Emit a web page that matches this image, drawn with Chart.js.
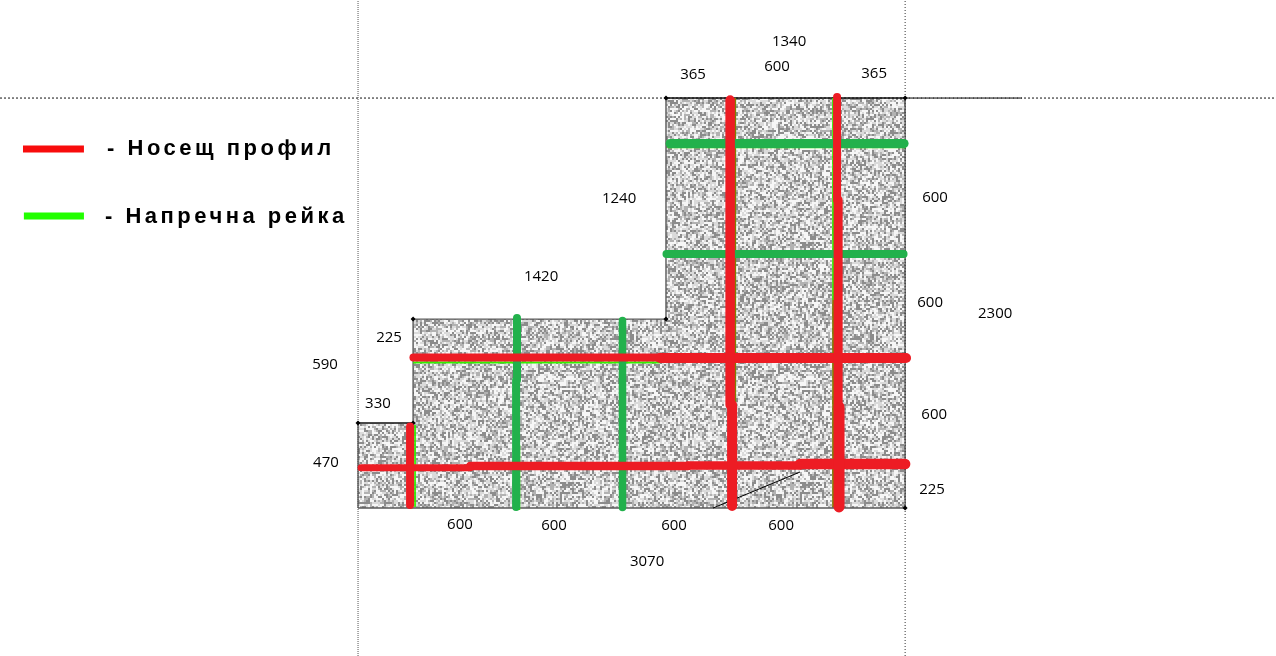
<!DOCTYPE html>
<html>
<head>
<meta charset="utf-8">
<title>Носещ профил</title>
<script src="https://cdn.jsdelivr.net/npm/chart.js@4/dist/chart.umd.min.js"></script>
<style>
  html, body { margin: 0; padding: 0; background: #fff; overflow: hidden; }
  canvas { display: block; }
</style>
</head>
<body>
<canvas id="plan" width="1276" height="656"></canvas>
<script>
// all values in mm, origin at the lower left corner of the ceiling
const RED = '#ed1c24';
const GREEN = '#22b14c';
const LIME = '#33f000';

const floorSteps = [[0, 477], [309, 1060], [1728, 2300], [3070, 2300]];
const outline = [[0, 0], [3070, 0], [3070, 2300], [1728, 2300], [1728, 1060], [309, 1060], [309, 477], [0, 477], [0, 0]];
const topEdge = [[1728, 2300], [3070, 2300]];
const stepEdge = [[0, 477], [309, 477]];
const corners = [[0, 477], [309, 477], [309, 1060], [1728, 1060], [1728, 2300], [3070, 2300], [3070, 0]];

const guideLeft = [[0, -830], [0, 2850]];
const guideRight = [[3070, -830], [3070, 2850]];
const guideTop = [[-2009, 2300], [5151, 2300]];
const guideTopDark = [[3070, 2300], [3726, 2300]];
const sketchLine = [[1992, 0], [2480, 202]];

const redV1a = [[2088, 2289], [2088, 578]];
const redV1b = [[2099, 578], [2099, 11]];
const redV2a = [[2688, 2306], [2688, 1728]];
const redV2b = [[2694, 1728], [2694, 567]];
const redV2c = [[2699, 567], [2699, 6]];
const redShort = [[292, 457], [292, 17]];
const redH1a = [[311, 844], [1695, 844]];
const redH1b = [[1695, 842], [3075, 842]];
const redH2a = [[17, 226], [629, 226]];
const redH2b = [[629, 236], [1852, 236]];
const redH2c = [[1852, 238], [2480, 238]];
const redH2d = [[2480, 247], [3070, 247]];

const greenH1 = [[1751, 2045], [3064, 2045]];
const greenH2 = [[1731, 1425], [3061, 1425]];
const greenV1a = [[892, 1066], [892, 718]];
const greenV1b = [[887, 718], [887, 6]];
const greenV2 = [[1484, 1052], [1484, 3]];

const limeH1 = [[1740, 2023], [3070, 2023]];
const limeV2 = [[2666, 2300], [2666, 1167]];
const limeH3 = [[309, 816], [1695, 816]];
const limeShort = [[320, 466], [320, 6]];
const limeV1 = [[906, 353], [906, -11]];
const oliveV1 = [[2116, 2300], [2116, 578]];
const oliveV2 = [[2666, 1167], [2666, 6]];
const brownH = [[2396, 1408], [3070, 1408]];

const legendRed = [[-1880, 2014], [-1538, 2014]];
const legendGreen = [[-1875, 1638], [-1538, 1638]];
const legendTexts = ['- Носещ профил', '- Напречна рейка'];
const legendTextX = [-1408, -1420];
const legendTextY = [2012, 1632];

const dimTexts = ['1340', '600', '365', '365', '1240', '600', '1420', '600', '2300', '225', '590', '330', '600', '470', '225', '600', '600', '600', '600', '3070'];
const dimX = [2419, 2351, 1880, 2896, 1465, 3238, 1027, 3210, 3575, 174, -185, 112, 3233, -180, 3221, 572, 1100, 1773, 2374, 1622];
const dimY = [2614, 2474, 2429, 2434, 1733, 1739, 1296, 1150, 1088, 953, 802, 583, 521, 252, 101, -96, -101, -101, -101, -303];

function toPoints(list) {
  return list.map(p => ({ x: p[0], y: p[1] }));
}

// speckled board texture
function boardPattern(ctx) {
  const size = 240;
  const src = document.createElement('canvas');
  src.width = src.height = size;
  const s = src.getContext('2d');
  s.fillStyle = '#dadada';
  s.fillRect(0, 0, size, size);
  for (let j = 0; j < size; j += 2) {
    for (let i = 0; i < size; i += 2) {
      const h = Math.abs(Math.sin(i * 12.9898 + j * 78.233) * 43758.5453) % 1;
      if (h < 0.26) {
        s.fillStyle = '#8c8c8c';
        s.fillRect(i, j, 2, 2);
      } else if (h < 0.44) {
        s.fillStyle = '#b2b2b2';
        s.fillRect(i, j, 2, 2);
      } else if (h > 0.7) {
        s.fillStyle = '#f6f6f6';
        s.fillRect(i, j, 2, 2);
      }
    }
  }
  const out = document.createElement('canvas');
  out.width = out.height = size;
  const o = out.getContext('2d');
  o.fillStyle = '#c8c8c8';
  o.fillRect(0, 0, size, size);
  o.filter = 'blur(0.5px)';
  o.drawImage(src, 0, 0);
  return ctx.createPattern(out, 'repeat');
}

function stroke(list, color, width, order, cap) {
  return {
    data: toPoints(list),
    borderColor: color,
    borderWidth: width,
    borderCapStyle: cap || 'round',
    pointRadius: 0,
    showLine: true,
    fill: false,
    tension: 0,
    order: order
  };
}

function dotted(list, color, dash) {
  return Object.assign(stroke(list, color, 1, 8, 'butt'), { borderDash: dash });
}

const dimensionLabels = {
  id: 'dimensionLabels',
  afterDatasetsDraw(chart) {
    const { ctx, scales: { x, y } } = chart;
    ctx.save();
    ctx.fillStyle = '#000';
    ctx.textBaseline = 'middle';
    ctx.textAlign = 'center';
    ctx.font = '15px "Open Sans"';
    dimTexts.forEach((t, i) => ctx.fillText(t, x.getPixelForValue(dimX[i]), y.getPixelForValue(dimY[i])));
    ctx.textAlign = 'left';
    ctx.font = 'bold 22px "Liberation Sans"';
    ctx.letterSpacing = '3.5px';
    legendTexts.forEach((t, i) => ctx.fillText(t, x.getPixelForValue(legendTextX[i]), y.getPixelForValue(legendTextY[i])));
    ctx.restore();
  }
};

const canvas = document.getElementById('plan');
const board = boardPattern(canvas.getContext('2d'));

new Chart(canvas, {
  type: 'scatter',
  data: {
    datasets: [
      Object.assign(stroke(floorSteps, 'rgba(0,0,0,0)', 0, 10, 'butt'), { stepped: true, fill: 'origin', backgroundColor: board }),
      stroke(outline, '#5a5a5a', 1.4, 9, 'butt'),
      stroke(topEdge, '#111111', 1, 8, 'butt'),
      stroke(stepEdge, '#111111', 1, 8, 'butt'),
      dotted(guideLeft, '#555555', [1, 1]),
      dotted(guideRight, '#333333', [1, 2]),
      dotted(guideTop, '#111111', [2, 2]),
      dotted(guideTopDark, '#000000', [3, 1]),
      stroke(sketchLine, '#000000', 1, 7, 'butt'),
      stroke(limeH1, LIME, 1.5, 6),
      stroke(limeV2, LIME, 2, 6, 'butt'),
      stroke(limeH3, LIME, 2, 6, 'butt'),
      stroke(limeShort, LIME, 1, 6, 'butt'),
      stroke(limeV1, LIME, 1.5, 6, 'butt'),
      stroke(oliveV1, '#808000', 2, 6, 'butt'),
      stroke(oliveV2, '#808000', 2, 6, 'butt'),
      stroke(brownH, '#a0522d', 1.5, 6, 'butt'),
      stroke(greenH1, GREEN, 9, 5),
      stroke(greenH2, GREEN, 8, 5),
      stroke(greenV1a, GREEN, 8, 3),
      stroke(greenV1b, GREEN, 8, 3),
      stroke(greenV2, GREEN, 7.5, 3),
      stroke(redV1a, RED, 9.5, 2),
      stroke(redV1b, RED, 10, 2),
      stroke(redV2a, RED, 8, 2),
      stroke(redV2b, RED, 9, 2),
      stroke(redV2c, RED, 11, 2),
      stroke(redShort, RED, 8, 2),
      stroke(redH1a, RED, 8, 2),
      stroke(redH1b, RED, 10, 2),
      stroke(redH2a, RED, 7, 2),
      stroke(redH2b, RED, 8.5, 2),
      stroke(redH2c, RED, 8.5, 2),
      stroke(redH2d, RED, 10.5, 2),
      stroke(legendRed, '#f80c0c', 7, 1, 'butt'),
      stroke(legendGreen, '#22ff00', 7, 1, 'butt'),
      {
        data: toPoints(corners),
        showLine: false,
        pointStyle: 'rectRot',
        pointRadius: 2.5,
        pointBackgroundColor: '#000',
        pointBorderWidth: 0,
        order: 4
      }
    ]
  },
  options: {
    responsive: false,
    animation: false,
    layout: { padding: 0, autoPadding: false },
    plugins: { legend: { display: false }, tooltip: { enabled: false } },
    scales: {
      x: { type: 'linear', display: false, min: -2009, max: 5151 },
      y: { type: 'linear', display: false, min: -830, max: 2850 }
    }
  },
  plugins: [dimensionLabels]
});
</script>
</body>
</html>
